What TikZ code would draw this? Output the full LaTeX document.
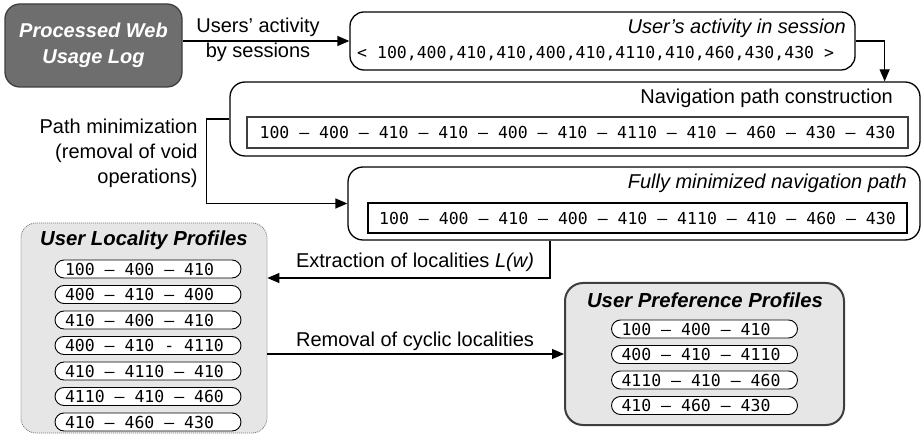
\documentclass[tikz,border=0pt]{standalone}
\usepackage{fontspec}
\setmainfont{Liberation Sans}
\setmonofont{DejaVu Sans Mono}
\usetikzlibrary{arrows.meta}
\definecolor{darkbox}{RGB}{110,110,110}
\definecolor{darkedge}{RGB}{62,62,62}
\definecolor{lightfill}{RGB}{230,230,230}
\definecolor{dotedge}{RGB}{120,120,120}
\newcommand{\pilltext}[1]{\makebox[166pt][l]{#1}}
\tikzset{
  txt/.style={font=\fontsize{20}{25}\selectfont},
  itxt/.style={font=\fontsize{20}{25}\selectfont\itshape},
  boldtitle/.style={font=\fontsize{20.3}{25}\selectfont\bfseries\itshape},
  mono/.style={font=\fontsize{16.5}{18}\selectfont\ttfamily},
  stage/.style={draw, line width=1.3pt, rounded corners=15pt, inner sep=0pt},
  seqbox/.style={draw, line width=1.1pt, inner sep=0pt, mono},
  pill/.style={draw, line width=0.9pt, rounded corners=9pt, fill=white,
    minimum height=18pt, minimum width=186pt, inner xsep=10pt, inner ysep=0pt, mono},
  flow/.style={line width=1.3pt, -{Triangle[length=12pt,width=10pt]}},
}
\begin{document}
\begin{tikzpicture}[x=1pt,y=-1pt]
\useasboundingbox (0,0) rectangle (921,435);
\fill[white] (0,0) rectangle (921,435);

% source log
\node[stage, fill=darkbox, draw=darkedge, minimum width=177pt, minimum height=83pt,
  text=white, align=center, font=\fontsize{20}{26}\selectfont\bfseries\itshape]
  (proc) at (93.5,45.5) {Processed Web\\Usage Log};

% session box
\node[stage, rounded corners=14pt, minimum width=505pt, minimum height=58pt] (sess) at (602.5,41) {};
\node[itxt, anchor=east, inner sep=0pt] (sesst) at (846,28) {User’s activity in session};
\node[mono, anchor=west, inner sep=0pt] (seq) at (357,54) {< 100,400,410,410,400,410,4110,410,460,430,430 >};

% navigation path construction
\node[stage, minimum width=690pt, minimum height=74pt] (nav) at (575,119) {};
\node[txt, anchor=east, inner sep=0pt] (navt) at (893,98) {Navigation path construction};
\node[seqbox, draw=darkedge, minimum width=661pt, minimum height=31pt] (navs) at (577.5,132.5)
  {100 – 400 – 410 – 410 – 400 – 410 – 4110 – 410 – 460 – 430 – 430};

% fully minimized path
\node[stage, minimum width=572pt, minimum height=73pt] (mini) at (634,203.5) {};
\node[itxt, anchor=east, inner sep=0pt] (minit) at (907,183) {Fully minimized navigation path};
\node[seqbox, minimum width=539pt, minimum height=30pt] (minis) at (637.5,218)
  {100 – 400 – 410 – 400 – 410 – 4110 – 410 – 460 – 430};

% locality profiles
\node[stage, fill=lightfill, draw=dotedge, line width=0.8pt, dash pattern=on 1pt off 1pt,
  minimum width=246pt, minimum height=210pt] (loc) at (144,328) {};
\node[boldtitle] (loct) at (144,240) {User Locality Profiles};
\node[pill] (l1) at (148,269)   {\pilltext{100 – 400 – 410}};
\node[pill] (l2) at (148,294.5) {\pilltext{400 – 410 – 400}};
\node[pill] (l3) at (148,320)   {\pilltext{410 – 400 – 410}};
\node[pill] (l4) at (148,345.5) {\pilltext{400 – 410 - 4110}};
\node[pill] (l5) at (148,371)   {\pilltext{410 – 4110 – 410}};
\node[pill] (l6) at (148,396.5) {\pilltext{4110 – 410 – 460}};
\node[pill] (l7) at (148,422)   {\pilltext{410 – 460 – 430}};

% preference profiles
\node[stage, rounded corners=18pt, fill=lightfill, draw=darkedge, line width=2pt,
  minimum width=279pt, minimum height=142pt] (pref) at (704.5,354) {};
\node[boldtitle] (preft) at (705,300) {User Preference Profiles};
\node[pill] (p1) at (704.5,329)   {\pilltext{100 – 400 – 410}};
\node[pill] (p2) at (704.5,354.5) {\pilltext{400 – 410 – 4110}};
\node[pill] (p3) at (704.5,380)   {\pilltext{4110 – 410 – 460}};
\node[pill] (p4) at (704.5,405.5) {\pilltext{410 – 460 – 430}};

% connectors
\draw[flow] (proc.east |- sess.west) -- (sess.west);
\node[txt, align=center] (lab1) at (258,40) {Users’ activity\\by sessions};

\draw[flow] (sess.east) -| ([xshift=-36pt]nav.north east);

\draw[flow] (nav.west) -- ++(-23,0) |- (mini.west);
\node[txt, align=right, anchor=east] (lab2) at (201,153) {Path minimization\\(removal of void\\operations)};

\coordinate (ex) at (550,278);
\draw[flow] (mini.south -| ex) |- (loc.east |- ex);
\node[txt] (lab3) at (415,262) {Extraction of localities \textit{L(w)}};

\draw[flow] (loc.east |- pref.west) -- (pref.west);
\node[txt] (lab4) at (415,341) {Removal of cyclic localities};
\end{tikzpicture}
\end{document}
